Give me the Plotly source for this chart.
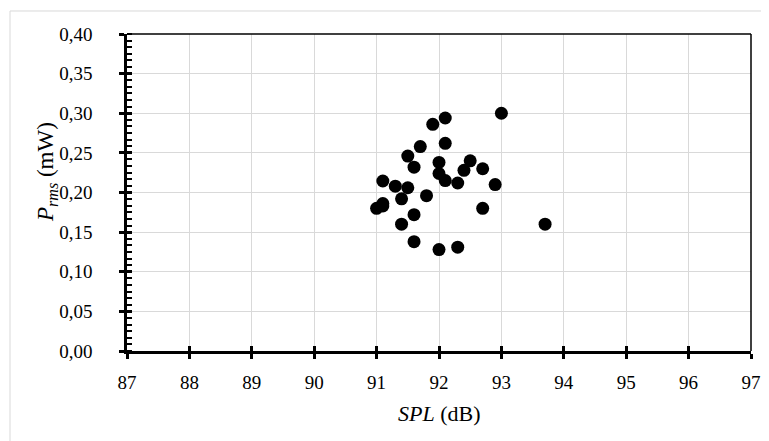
import plotly.graph_objects as go

spl_db = [92.1, 91.9, 93.0, 92.1, 91.7, 91.5, 92.0, 92.5, 91.6, 92.4,
          92.7, 92.0, 91.1, 92.1, 92.3, 92.9, 91.3, 91.5, 91.8, 91.4,
          91.1, 91.1, 91.0, 92.7, 91.6, 91.4, 93.7, 91.6, 92.0, 92.3]
prms_mw = [0.294, 0.286, 0.300, 0.262, 0.258, 0.246, 0.238, 0.240, 0.232, 0.228,
           0.230, 0.224, 0.2145, 0.215, 0.212, 0.210, 0.208, 0.206, 0.196, 0.192,
           0.186, 0.183, 0.180, 0.180, 0.172, 0.160, 0.160, 0.138, 0.128, 0.131]

x_range = [87, 97]
y_range = [0, 0.40]
x_title = "<i>SPL</i> (dB)"
y_title = "<i>P</i><sub><i>rms</i></sub> (mW)"

FONT = "Liberation Serif"

fig = go.Figure()
fig.add_trace(go.Scatter(x=spl_db, y=prms_mw, mode="markers",
                         marker=dict(color="black", size=13),
                         showlegend=False, hoverinfo="skip"))
# empty trace hosting the overlay axes (inner halves of the crossing ticks)
fig.add_trace(go.Scatter(x=[None], y=[None], xaxis="x2", yaxis="y2", mode="markers",
                         showlegend=False, hoverinfo="skip"))

grid = "#d9d9d9"
fig.update_layout(
    width=761, height=433,
    margin=dict(l=119, r=18, t=26, b=90, autoexpand=False),
    paper_bgcolor="white", plot_bgcolor="white",
    separators=", ",
    font=dict(family=FONT, size=19, color="black"),
    xaxis=dict(range=x_range, dtick=1, tick0=87, showgrid=True, gridcolor=grid, gridwidth=1,
               showline=True, linecolor="black", linewidth=3,
               ticks="outside", ticklen=5, tickwidth=3, tickcolor="black",
               ticklabelstandoff=7,
               zeroline=False, fixedrange=True, automargin=False,
               tickfont=dict(family=FONT, size=19, color="black")),
    yaxis=dict(range=y_range, dtick=0.05, tickformat=".2f", showgrid=True, gridcolor=grid, gridwidth=1,
               showline=True, linecolor="black", linewidth=3,
               ticks="outside", ticklen=5, tickwidth=3, tickcolor="black",
               ticklabelstandoff=15, ticksuffix="\u2009\u2009",
               minor=dict(dtick=0.05 / 6, tick0=0, ticks="inside", ticklen=5, tickwidth=2,
                          tickcolor="black", showgrid=False),
               zeroline=False, fixedrange=True, automargin=False,
               tickfont=dict(family=FONT, size=19, color="black")),
    xaxis2=dict(range=x_range, dtick=1, tick0=87, overlaying="x", anchor="y2", side="bottom",
                showgrid=False, showline=False, zeroline=False, showticklabels=False,
                ticks="inside", ticklen=5, tickwidth=3, tickcolor="black", fixedrange=True),
    yaxis2=dict(range=y_range, dtick=0.05, overlaying="y", anchor="x2", side="left",
                showgrid=False, showline=False, zeroline=False, showticklabels=False,
                ticks="inside", ticklen=5, tickwidth=3, tickcolor="black", fixedrange=True),
    annotations=[
        dict(text=x_title, xref="paper", yref="paper", x=0.5, y=-0.196, xanchor="center", yanchor="middle",
             showarrow=False, font=dict(family=FONT, size=22, color="black")),
        dict(text=y_title, xref="paper", yref="paper", x=-0.128, y=0.565, xanchor="center", yanchor="middle",
             textangle=-90, showarrow=False, font=dict(family=FONT, size=23, color="black")),
    ],
    shapes=[
        # outer light-gray chart border
        dict(type="rect", xref="paper", yref="paper", x0=-0.1875, x1=1.05, y0=-0.35, y1=1.0726,
             line=dict(color="#d9d9d9", width=1), fillcolor="rgba(0,0,0,0)", layer="below"),
        # thin top and right frame lines
        dict(type="line", xref="paper", yref="paper", x0=0, x1=1, y0=1, y1=1,
             line=dict(color="black", width=1.5)),
        dict(type="line", xref="paper", yref="paper", x0=1, x1=1, y0=0, y1=1,
             line=dict(color="black", width=1.5)),
    ],
)

fig.write_html("out.html")
